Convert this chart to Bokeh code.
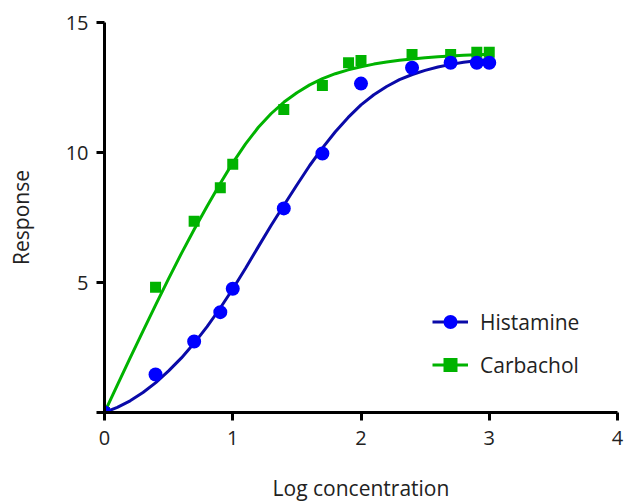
from bokeh.plotting import figure
from bokeh.models import Range1d, FixedTicker, Legend, LegendItem
from bokeh.embed import file_html
from bokeh.resources import INLINE

# Measured points (x = log concentration)
hist_x = [0.0, 0.398, 0.699, 0.903, 1.0, 1.398, 1.699, 2.0, 2.398, 2.699, 2.903, 3.0]
hist_y = [0.0, 1.46, 2.73, 3.86, 4.76, 7.85, 9.96, 12.65, 13.26, 13.45, 13.45, 13.45]

carb_x = [0.0, 0.398, 0.699, 0.903, 1.0, 1.398, 1.699, 1.903, 2.0, 2.398, 2.699, 2.903, 3.0]
carb_y = [0.0, 4.82, 7.36, 8.64, 9.55, 11.65, 12.58, 13.45, 13.54, 13.77, 13.77, 13.86, 13.86]

# Fitted curves
curve_x = [0.0, 0.1, 0.2, 0.3, 0.4, 0.5, 0.6, 0.7, 0.8, 0.9, 1.0,
           1.1, 1.2, 1.3, 1.4, 1.5, 1.6, 1.7, 1.8, 1.9, 2.0,
           2.1, 2.2, 2.3, 2.4, 2.5, 2.6, 2.7, 2.8, 2.9, 3.0]
hist_fit = [0.0, 0.2, 0.45, 0.77, 1.15, 1.6, 2.1, 2.67, 3.3, 4.0, 4.75,
            5.55, 6.38, 7.2, 7.98, 8.75, 9.5, 10.18, 10.8, 11.35, 11.83,
            12.22, 12.54, 12.8, 13.0, 13.16, 13.29, 13.39, 13.47, 13.53, 13.58]
carb_fit = [0.0, 1.05, 2.1, 3.13, 4.15, 5.15, 6.12, 7.05, 7.93, 8.79, 9.6,
            10.33, 10.97, 11.5, 11.94, 12.3, 12.6, 12.84, 13.03, 13.18, 13.3,
            13.4, 13.48, 13.55, 13.6, 13.64, 13.68, 13.71, 13.74, 13.76, 13.78]

x_ticks = [0, 1, 2, 3, 4]
y_ticks = [0, 5, 10, 15]
series_names = ["Histamine", "Carbachol"]

FONT = "Open Sans"
TXT = "#222222"

p = figure(width=627, height=504, output_backend="svg", toolbar_location=None,
           x_range=Range1d(0, 4), y_range=Range1d(0, 15),
           min_border_left=104, min_border_top=22, min_border_right=10, min_border_bottom=91)
p.outline_line_color = None
p.xgrid.grid_line_color = None
p.ygrid.grid_line_color = None
p.background_fill_color = "white"

GREEN = "#00b300"
BLUE_LINE = "#0a0aa8"
BLUE_PT = "#0000ff"

g_line = p.line(curve_x, carb_fit, line_color=GREEN, line_width=3)
g_pts = p.scatter(carb_x, carb_y, marker="square", size=11, fill_color=GREEN, line_color=None)
b_line = p.line(curve_x, hist_fit, line_color=BLUE_LINE, line_width=3)
b_pts = p.scatter(hist_x, hist_y, marker="circle", size=14, fill_color=BLUE_PT, line_color=None)

for ax in (p.xaxis[0], p.yaxis[0]):
    ax.axis_line_width = 3
    ax.axis_line_color = "black"
    ax.major_tick_line_width = 3
    ax.major_tick_line_color = "black"
    ax.major_tick_out = 8
    ax.major_tick_in = 0
    ax.minor_tick_line_color = None
    ax.major_label_text_font = FONT
    ax.major_label_text_font_size = "20px"
    ax.major_label_text_color = TXT
    ax.axis_label_text_font = FONT
    ax.axis_label_text_font_size = "21px"
    ax.axis_label_text_font_style = "normal"
    ax.axis_label_text_color = TXT

p.xaxis.ticker = FixedTicker(ticks=x_ticks)
p.yaxis.ticker = FixedTicker(ticks=y_ticks)
p.yaxis.major_label_overrides = {0: ""}
p.xaxis.axis_label = "Log concentration"
p.yaxis.axis_label = "Response"
p.xaxis.major_label_standoff = 10
p.yaxis.major_label_standoff = 8
p.xaxis.axis_label_standoff = 26
p.yaxis.axis_label_standoff = 28

legend = Legend(items=[LegendItem(label=series_names[0], renderers=[b_line, b_pts]),
                       LegendItem(label=series_names[1], renderers=[g_line, g_pts])],
                location=(328, 30), glyph_width=36, glyph_height=35, spacing=8,
                padding=0, margin=0, label_standoff=12,
                label_text_font=FONT, label_text_font_size="21px", label_text_color=TXT,
                border_line_color=None, background_fill_alpha=0)
p.add_layout(legend, "center")

open("out.html", "w").write(file_html(p, INLINE))
